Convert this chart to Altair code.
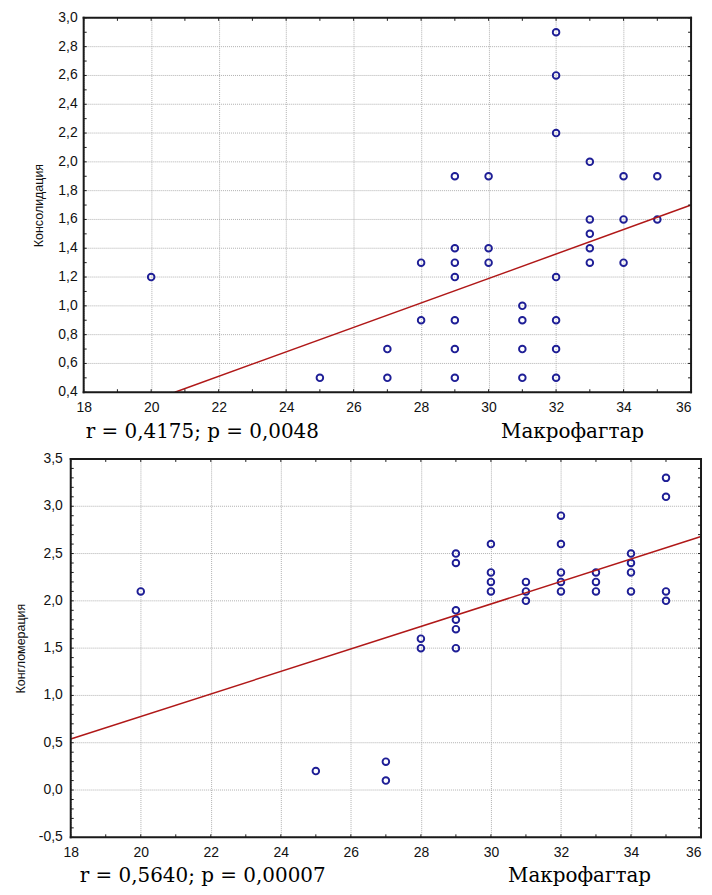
import altair as alt
import pandas as pd

# ---------------- data ----------------
top_x = [20, 25, 27, 27, 28, 28, 29, 29, 29, 29, 29, 29, 29, 30, 30, 30,
         31, 31, 31, 31, 32, 32, 32, 32, 32, 32, 32, 33, 33, 33, 33, 33,
         34, 34, 34, 35, 35]
top_y = [1.2, 0.5, 0.7, 0.5, 1.3, 0.9, 1.9, 1.4, 1.3, 1.2, 0.9, 0.7, 0.5, 1.9, 1.4, 1.3,
         1.0, 0.9, 0.7, 0.5, 2.9, 2.6, 2.2, 1.2, 0.9, 0.7, 0.5, 2.0, 1.6, 1.5, 1.4, 1.3,
         1.9, 1.6, 1.3, 1.9, 1.6]

bot_x = [20, 25, 27, 27, 28, 28, 29, 29, 29, 29, 29, 29, 30, 30, 30, 30,
         31, 31, 31, 32, 32, 32, 32, 32, 33, 33, 33, 34, 34, 34, 34, 35, 35, 35, 35]
bot_y = [2.1, 0.2, 0.3, 0.1, 1.6, 1.5, 2.5, 2.4, 1.9, 1.8, 1.7, 1.5, 2.6, 2.3, 2.2, 2.1,
         2.2, 2.1, 2.0, 2.9, 2.6, 2.3, 2.2, 2.1, 2.3, 2.2, 2.1, 2.5, 2.4, 2.3, 2.1, 3.3, 3.1, 2.1, 2.0]

# fitted lines (end points)
top_line_x = [20.7, 36]
top_line_y = [0.4, 1.70]
bot_line_x = [18, 36]
bot_line_y = [0.54, 2.68]

x_major = [18, 20, 22, 24, 26, 28, 30, 32, 34, 36]
x_minor = list(range(18, 37))
top_y_major = [0.4, 0.6, 0.8, 1.0, 1.2, 1.4, 1.6, 1.8, 2.0, 2.2, 2.4, 2.6, 2.8, 3.0]
top_y_labels = ["0,4", "0,6", "0,8", "1,0", "1,2", "1,4", "1,6", "1,8", "2,0", "2,2",
                "2,4", "2,6", "2,8", "3,0"]
top_y_minor = [round(0.4 + 0.1 * i, 1) for i in range(27)]
bot_y_major = [-0.5, 0.0, 0.5, 1.0, 1.5, 2.0, 2.5, 3.0, 3.5]
bot_y_labels = ["-0,5", "0,0", "0,5", "1,0", "1,5", "2,0", "2,5", "3,0", "3,5"]
bot_y_minor = [round(-0.5 + 0.1 * i, 1) for i in range(41)]

top_ytitle = "Консолидация"
bot_ytitle = "Конгломерация"
top_stat = "r = 0,4175; p = 0,0048"
bot_stat = "r = 0,5640; p = 0,00007"
xname = "Макрофагтар"

PT = "#1e1e96"
LN = "#b01818"
FR = "#1a1a1a"
GR = "#b0b0b0"
LBLFONT = "Liberation Sans"
LBLSIZE = 14


def panel(px, py, lx, ly, ymin_list, ymaj, ylab, ydom, ytitle, stat, W, H, x0,
          ylab_gap, title_pad, stat_x, stat_y, name_x, top_ext, bot_ext):
    xs = alt.Scale(domain=[18, 36], nice=False, zero=False, range=[x0, W])
    ys = alt.Scale(domain=ydom, nice=False, zero=False)
    one = pd.DataFrame({"t": [stat], "n": [xname]})

    pts = pd.DataFrame({"x": px, "y": py})
    base = alt.Chart(pts).mark_point(
        shape="circle", filled=False, size=44, strokeWidth=1.9, color=PT, opacity=1
    ).encode(
        x=alt.X("x:Q", scale=xs, title=None, axis=alt.Axis(
            values=x_major, grid=True, ticks=False, domain=False,
            format="d", labelPadding=8, gridColor=GR, gridDash=[1, 1],
            labelFont=LBLFONT, labelFontSize=LBLSIZE, labelColor="#111111",
            labelOverlap=False, labelFlush=False,
            labelAlign=alt.condition("datum.value >= 36", alt.value("right"), alt.value("center")))),
        y=alt.Y("y:Q", scale=ys, title=ytitle, axis=alt.Axis(
            labels=False, grid=False, ticks=False, domain=False, offset=-x0,
            titlePadding=title_pad, titleFont=LBLFONT, titleFontSize=12.5,
            titleFontWeight="normal", titleColor="#111111")),
    )
    ygrid = alt.Chart(pd.DataFrame({"gy": ymaj})).mark_rule(
        color=GR, strokeWidth=1, strokeDash=[1, 1]
    ).encode(y=alt.Y("gy:Q", scale=ys, title=ytitle), x=alt.datum(18), x2=alt.datum(36))

    ylabels = alt.Chart(pd.DataFrame({"gy": ymaj, "lab": ylab})).mark_text(
        align="right", baseline="middle", font=LBLFONT, fontSize=LBLSIZE, color="#111111"
    ).encode(y=alt.Y("gy:Q", scale=ys, title=ytitle), x=alt.value(x0 - ylab_gap), text="lab:N")

    line = alt.Chart(pd.DataFrame({"lx": lx, "ly": ly})).mark_line(
        color=LN, strokeWidth=1.5
    ).encode(x=alt.X("lx:Q", scale=xs, title=None), y=alt.Y("ly:Q", scale=ys, title=ytitle))

    xt = pd.DataFrame({"tx": x_minor})
    yt = pd.DataFrame({"ty": ymin_list})
    xtb = alt.Chart(xt).mark_rule(color=FR, strokeWidth=1).encode(
        x=alt.X("tx:Q", scale=xs, title=None), y=alt.value(H), y2=alt.value(H - 3))
    xtt = alt.Chart(xt).mark_rule(color=FR, strokeWidth=1).encode(
        x=alt.X("tx:Q", scale=xs, title=None), y=alt.value(0), y2=alt.value(3))
    ytl = alt.Chart(yt).mark_rule(color=FR, strokeWidth=1).encode(
        y=alt.Y("ty:Q", scale=ys, title=ytitle), x=alt.value(x0), x2=alt.value(x0 + 3))
    ytr = alt.Chart(yt).mark_rule(color=FR, strokeWidth=1).encode(
        y=alt.Y("ty:Q", scale=ys, title=ytitle), x=alt.value(W - 3), x2=alt.value(W))

    frame_v = alt.Chart(pd.DataFrame({"fx": [18, 36]})).mark_rule(
        color=FR, strokeWidth=2, strokeCap="square"
    ).encode(x=alt.X("fx:Q", scale=xs, title=None), y=alt.datum(ydom[0]), y2=alt.datum(ydom[1]))
    frame_h = alt.Chart(pd.DataFrame({"fy": ydom})).mark_rule(
        color=FR, strokeWidth=2, strokeCap="square"
    ).encode(y=alt.Y("fy:Q", scale=ys, title=ytitle), x=alt.datum(18), x2=alt.datum(36))

    t1 = alt.Chart(one).mark_text(
        align="left", baseline="alphabetic", font="DejaVu Serif", fontSize=20, color="black"
    ).encode(text="t:N", x=alt.value(stat_x), y=alt.value(stat_y))
    t2 = alt.Chart(one).mark_text(
        align="center", baseline="alphabetic", font="DejaVu Serif", fontSize=20, color="black"
    ).encode(text="n:N", x=alt.value(name_x), y=alt.value(stat_y))
    # invisible layout guide
    guide = alt.Chart(one).mark_rule(strokeOpacity=0, strokeWidth=1).encode(
        x=alt.value(-62.5), x2=alt.value(-62.5), y=alt.value(top_ext), y2=alt.value(bot_ext))

    return alt.layer(ygrid, base, ylabels, line, xtb, xtt, ytl, ytr, frame_v, frame_h,
                     t1, t2, guide).properties(width=W, height=H)


top = panel(top_x, top_y, top_line_x, top_line_y, top_y_minor, top_y_major, top_y_labels,
            [0.4, 3.0], top_ytitle, top_stat, 623, 376, 13, 6, 38,
            15, 422, 504, -6.5, 433.5)
bot = panel(bot_x, bot_y, bot_line_x, bot_line_y, bot_y_minor, bot_y_major, bot_y_labels,
            [-0.5, 3.5], bot_ytitle, bot_stat, 633, 380, 0, 8, 43,
            9, 425, 511, -8.5, 390)

chart = alt.concat(top, bot, columns=1, spacing=0, align="none", bounds="full").configure(
    padding={"left": 0, "top": 0, "right": -1, "bottom": 0}
).configure_view(stroke="transparent")

chart.save("out.html", embed_options={"renderer": "svg", "actions": False})
